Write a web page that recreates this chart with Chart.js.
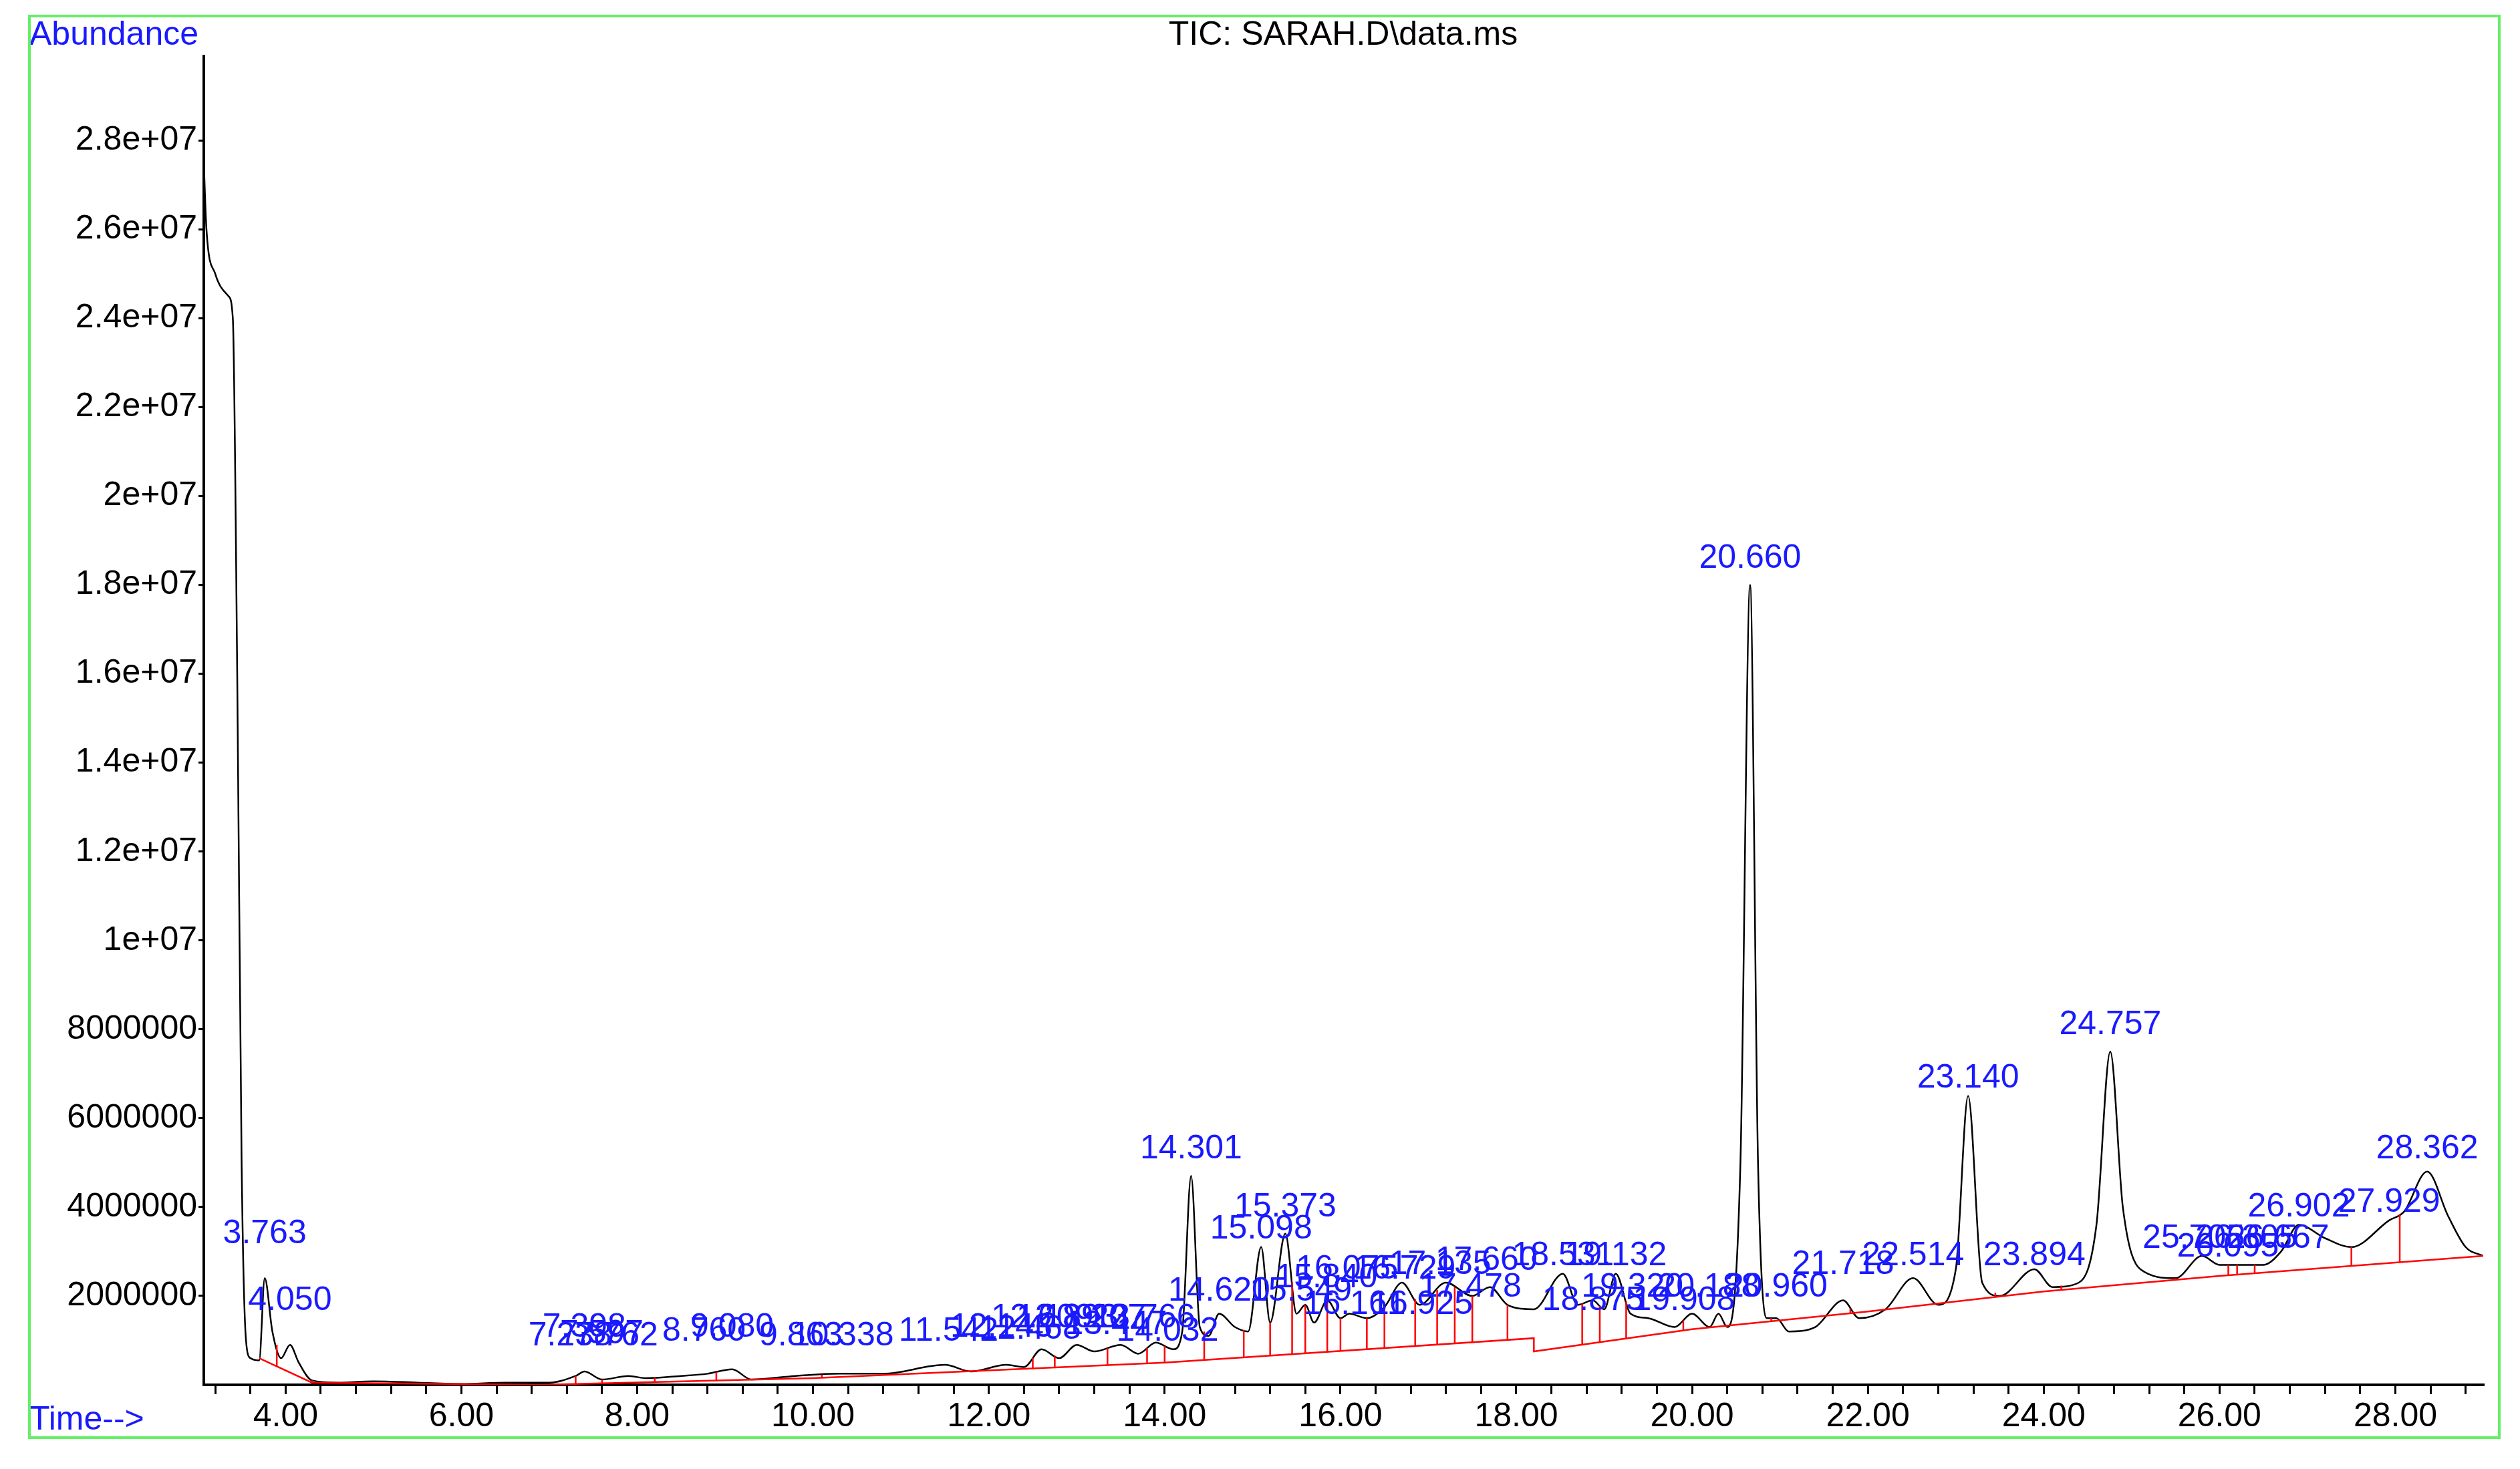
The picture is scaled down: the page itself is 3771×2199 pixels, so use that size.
<!DOCTYPE html>
<html>
<head>
<meta charset="utf-8">
<script src="https://cdn.jsdelivr.net/npm/chart.js@4"></script>
<style>body{margin:0;background:#fff}canvas{display:block}</style>
</head>
<body>
<canvas id="c" width="3771" height="2199"></canvas>
<script>
// TIC trace, time in min, abundance in millions
const traceTime = [3.07,3.1,3.2,3.35,3.4,3.45,3.5,3.55,3.6,3.7,3.763,3.85,3.95,4.05,4.15,4.3,4.6,5,5.5,6,6.5,7.0,7.3,7.4,7.6,7.9,8.1,8.5,8.8,9.08,9.3,9.8,10.3,10.8,11.5,11.8,12.2,12.4,12.6,12.8,13.0,13.2,13.5,13.7,13.9,14.1,14.2,14.301,14.4,14.5,14.62,14.8,14.95,15.098,15.2,15.373,15.5,15.6,15.7,15.85,16.0,16.1,16.3,16.5,16.7,16.9,17.2,17.5,17.7,17.9,18.2,18.53,18.7,18.87,19.0,19.132,19.3,19.5,19.8,20.0,20.2,20.3,20.4,20.55,20.66,20.75,20.85,20.96,21.1,21.4,21.718,21.9,22.2,22.514,22.8,23.0,23.14,23.3,23.5,23.894,24.1,24.4,24.6,24.757,24.9,25.1,25.5,25.8,26.0,26.5,26.7,26.902,27.2,27.5,27.929,28.1,28.362,28.6,28.8,29.0];
const traceAbund = [27.5,26,25,24.5,24,16,5,1.0,0.6,0.55,2.4,1.2,0.6,0.9,0.5,0.1,0.05,0.08,0.05,0.02,0.05,0.05,0.2,0.3,0.12,0.2,0.15,0.2,0.25,0.35,0.12,0.2,0.25,0.25,0.45,0.3,0.45,0.4,0.8,0.6,0.9,0.75,0.9,0.7,0.95,0.8,1.2,4.7,1.3,1.1,1.6,1.3,1.2,3.1,1.4,3.4,1.6,1.8,1.4,1.9,1.5,1.6,1.5,1.75,2.3,1.8,2.3,2.0,2.2,1.8,1.7,2.5,1.8,1.9,1.7,2.5,1.6,1.5,1.3,1.6,1.3,1.6,1.3,5,18,5,1.5,1.5,1.2,1.3,1.9,1.5,1.7,2.4,1.8,2.6,6.5,2.3,2.0,2.6,2.2,2.3,3.6,7.5,4.0,2.6,2.4,2.9,2.7,2.7,3.0,3.6,3.3,3.1,3.7,3.9,4.8,3.8,3.1,2.9];
// integration baseline (red)
const baseTime = [3.7,4.3,6.9,10,14,18.2,18.2,20,22,24,26,29];
const baseAbund = [0.6,0.05,0,0.15,0.5,1.05,0.75,1.25,1.65,2.1,2.45,2.9];
// red drop lines at peak boundaries
const dropTimes = [3.9,4.3,7.3,7.6,8.2,8.9,9.3,10.1,11.7,12.5,12.75,13.35,13.8,14.0,14.45,14.9,15.2,15.45,15.6,15.85,16.0,16.3,16.5,16.85,17.1,17.3,17.5,17.9,18.75,18.95,19.25,19.9,20.4,20.9,21.8,22.8,23.45,24.2,25.5,26.1,26.2,26.4,27.5,28.05];
// peak labels
const peakLabels = ['3.763','4.050','7.238','7.398','7.597','7.762','8.760','9.080','9.863','10.338','11.542','12.143','12.468','12.609','12.893','13.207','13.447','13.766','14.032','14.301','14.620','15.098','15.373','15.549','15.840','16.075','16.161','16.729','16.925','17.135','17.478','17.660','18.531','18.875','19.132','19.320','19.908','20.188','20.660','20.960','21.718','22.514','23.140','23.894','24.757','25.705','26.095','26.305','26.667','26.902','27.929','28.362'];
const labelY = [2.9,1.4,0.6,0.8,0.65,0.6,0.7,0.8,0.6,0.6,0.7,0.8,0.75,1.0,1.0,1.0,0.85,1.0,0.7,4.8,1.6,3.0,3.5,1.6,1.9,2.1,1.3,2.1,1.3,2.2,1.7,2.3,2.4,1.4,2.4,1.7,1.4,1.7,18.1,1.7,2.2,2.4,6.4,2.4,7.6,2.8,2.6,2.8,2.8,3.5,3.6,4.8];

const M = 1e6;
const xy = (ts, vs) => ts.map((t, i) => ({ x: t, y: vs[i] * M }));
function traceAt(t) {
  for (let i = 1; i < traceTime.length; i++) {
    if (traceTime[i] >= t) {
      const f = (t - traceTime[i - 1]) / (traceTime[i] - traceTime[i - 1]);
      return (traceAbund[i - 1] + f * (traceAbund[i] - traceAbund[i - 1])) * M;
    }
  }
  return 0;
}
function baseAt(t) {
  for (let i = 1; i < baseTime.length; i++) {
    if (baseTime[i] >= t && baseTime[i] > baseTime[i - 1]) {
      const f = (t - baseTime[i - 1]) / (baseTime[i] - baseTime[i - 1]);
      return Math.max(0, (baseAbund[i - 1] + f * (baseAbund[i] - baseAbund[i - 1])) * M);
    }
  }
  return 0;
}

const xTicks = [];
for (let k = 8; k <= 72; k++) xTicks.push(Math.round(k * 4) / 10);

const FONT = '"Liberation Sans", Arial, sans-serif';

const overlay = {
  id: 'overlay',
  afterDatasetsDraw(chart) {
    const { ctx, scales: { x, y } } = chart;
    ctx.save();
    ctx.strokeStyle = '#ff0000';
    ctx.lineWidth = 2.5;
    dropTimes.forEach(t => {
      ctx.beginPath();
      ctx.moveTo(x.getPixelForValue(t), y.getPixelForValue(baseAt(t)));
      ctx.lineTo(x.getPixelForValue(t), y.getPixelForValue(traceAt(t)));
      ctx.stroke();
    });
    ctx.fillStyle = '#1a1aff';
    ctx.font = '50px ' + FONT;
    ctx.textAlign = 'center';
    ctx.textBaseline = 'bottom';
    peakLabels.forEach((l, i) => {
      ctx.fillText(l, x.getPixelForValue(parseFloat(l)), y.getPixelForValue(labelY[i] * M) - 8);
    });
    ctx.textAlign = 'left';
    ctx.textBaseline = 'middle';
    ctx.fillText('Abundance', 44, 53);
    ctx.fillText('Time-->', 44, 2126);
    ctx.fillStyle = '#000';
    ctx.textAlign = 'center';
    ctx.fillText('TIC: SARAH.D\\data.ms', 2010, 53);
    ctx.strokeStyle = '#66ee66';
    ctx.lineWidth = 4;
    ctx.strokeRect(44, 24, 3696, 2128);
    ctx.restore();
  }
};

new Chart(document.getElementById('c'), {
  type: 'line',
  data: {
    datasets: [
      { data: xy(baseTime, baseAbund), borderColor: '#ff0000', borderWidth: 2.5, pointRadius: 0, tension: 0 },
      { data: xy(traceTime, traceAbund), borderColor: '#000', borderWidth: 2.5, pointRadius: 0, tension: 0.35, cubicInterpolationMode: 'monotone' }
    ]
  },
  options: {
    responsive: false,
    animation: false,
    devicePixelRatio: 1,
    layout: { padding: { top: 84, right: 55, left: 0, bottom: 0 } },
    plugins: { legend: { display: false }, tooltip: { enabled: false } },
    scales: {
      x: {
        type: 'linear', min: 3.07, max: 29.0,
        afterBuildTicks: s => { s.ticks = xTicks.map(v => ({ value: v })); },
        afterFit: s => { s.height = 126; },
        border: { color: '#000', width: 4 },
        grid: { drawOnChartArea: false, color: '#000', tickLength: 14, lineWidth: 3 },
        ticks: {
          autoSkip: false, maxRotation: 0, color: '#000', font: { family: FONT, size: 50 }, padding: 4,
          callback: v => (Math.abs(v - Math.round(v)) < 1e-6 && Math.round(v) % 2 === 0) ? v.toFixed(2) : ''
        }
      },
      y: {
        min: 0, max: 2.99e7,
        afterBuildTicks: s => { const t = []; for (let k = 1; k <= 14; k++) t.push({ value: k * 2e6 }); s.ticks = t; },
        afterFit: s => { s.width = 305; },
        border: { color: '#000', width: 4 },
        grid: { drawOnChartArea: false, color: '#000', tickLength: 8, lineWidth: 3 },
        ticks: {
          color: '#000', font: { family: FONT, size: 50 }, padding: 2,
          callback: v => v < 1e7 ? String(v) : (v / 1e7).toString() + 'e+07'
        }
      }
    }
  },
  plugins: [overlay]
});
</script>
</body>
</html>
